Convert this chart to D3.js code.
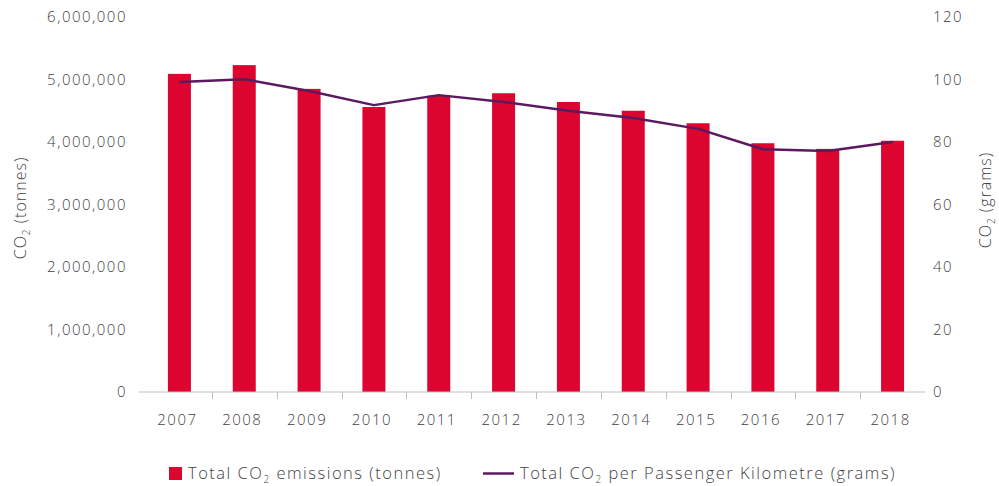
<!DOCTYPE html>
<html>
<head>
<meta charset="utf-8">
<script src="https://cdn.jsdelivr.net/npm/d3@7"></script>
<style>
  body { margin: 0; background: #fff; }
  svg text { font-family: "Open Sans", Lato, sans-serif; font-weight: 350; fill: #3F3F3F; letter-spacing: 1.5px; }
</style>
</head>
<body>
<div id="chart"></div>
<script>
const years = ['2007', '2008', '2009', '2010', '2011', '2012', '2013', '2014', '2015', '2016', '2017', '2018'];
const totalTonnes = [5090000, 5230000, 4850000, 4560000, 4740000, 4780000, 4640000, 4500000, 4300000, 3980000, 3890000, 4020000];
const gramsPerPkm = [99.2, 100.1, 96.3, 91.8, 95, 92.8, 90, 87.7, 84.2, 77.7, 77.1, 80];
const leftTicks = [0, 1000000, 2000000, 3000000, 4000000, 5000000, 6000000];
const rightTicks = [0, 20, 40, 60, 80, 100, 120];

const COLORS = { bar: '#DC0530', line: '#5B1A5F', axis: '#BFBFBF', text: '#3F3F3F' };
const width = 999, height = 486;

const svg = d3.select('#chart').append('svg')
  .attr('width', width)
  .attr('height', height);

const x = d3.scaleBand().domain(years).range([147, 925]);
const yLeft = d3.scaleLinear().domain([0, 6000000]).range([392, 17]);
const yRight = d3.scaleLinear().domain([0, 120]).range([392, 17]);
const barW = 23;

// bars
svg.append('g').selectAll('rect')
  .data(years)
  .join('rect')
  .attr('x', (d) => x(d) + x.bandwidth() / 2 - barW / 2)
  .attr('y', (d, i) => yLeft(totalTonnes[i]))
  .attr('width', barW)
  .attr('height', (d, i) => yLeft(0) - yLeft(totalTonnes[i]))
  .attr('fill', COLORS.bar);

// line
const line = d3.line()
  .x((d, i) => x(years[i]) + x.bandwidth() / 2)
  .y((d) => yRight(d));
svg.append('path')
  .datum(gramsPerPkm)
  .attr('d', line)
  .attr('fill', 'none')
  .attr('stroke', COLORS.line)
  .attr('stroke-width', 2.5)
  .attr('stroke-linejoin', 'round');

// x axis
const xAxis = svg.append('g');
xAxis.append('line')
  .attr('x1', 139).attr('x2', x.range()[1])
  .attr('y1', yLeft(0)).attr('y2', yLeft(0))
  .attr('stroke', COLORS.axis).attr('stroke-width', 1);
xAxis.selectAll('line.tick')
  .data(years.slice(1))
  .join('line')
  .attr('class', 'tick')
  .attr('x1', (d) => Math.round(x(d)) + 0.5)
  .attr('x2', (d) => Math.round(x(d)) + 0.5)
  .attr('y1', yLeft(0)).attr('y2', yLeft(0) + 7)
  .attr('stroke', COLORS.axis);
xAxis.selectAll('text')
  .data(years)
  .join('text')
  .attr('x', (d) => x(d) + x.bandwidth() / 2 - 2)
  .attr('y', 425)
  .attr('text-anchor', 'middle')
  .attr('font-size', 15)
  .text((d) => d);

// left axis labels
const fmt = d3.format(',');
svg.append('g').selectAll('text')
  .data(leftTicks)
  .join('text')
  .attr('x', 127)
  .attr('y', (d) => yLeft(d) + 5)
  .attr('text-anchor', 'end')
  .attr('font-size', 15)
  .text((d) => fmt(d));

// right axis labels
svg.append('g').selectAll('text')
  .data(rightTicks)
  .join('text')
  .attr('x', 933)
  .attr('y', (d) => yRight(d) + 5)
  .attr('text-anchor', 'start')
  .attr('font-size', 15)
  .text((d) => d);

function co2Label(g, rest) {
  const t = g.append('text').attr('font-size', 16).style('letter-spacing', '1px');
  t.append('tspan').text('CO');
  t.append('tspan').attr('font-size', 10).attr('dy', 4).text('2');
  t.append('tspan').attr('dy', -4).text(rest);
  return t;
}

co2Label(svg, ' (tonnes)')
  .attr('transform', 'translate(26,208) rotate(-90)')
  .attr('text-anchor', 'middle');
co2Label(svg, ' (grams)')
  .attr('transform', 'translate(991,200) rotate(-90)')
  .attr('text-anchor', 'middle');

// legend
const legend = svg.append('g');
legend.append('rect')
  .attr('x', 169).attr('y', 467).attr('width', 13).attr('height', 13)
  .attr('fill', COLORS.bar);
const l1 = legend.append('text').attr('x', 188).attr('y', 479).attr('font-size', 16.5);
l1.append('tspan').text('Total CO');
l1.append('tspan').attr('font-size', 10).attr('dy', 4).text('2');
l1.append('tspan').attr('dy', -4).text(' emissions (tonnes)');

legend.append('line')
  .attr('x1', 483).attr('x2', 514).attr('y1', 473.5).attr('y2', 473.5)
  .attr('stroke', COLORS.line).attr('stroke-width', 2.5);
const l2 = legend.append('text').attr('x', 520).attr('y', 479).attr('font-size', 16.5);
l2.append('tspan').text('Total CO');
l2.append('tspan').attr('font-size', 10).attr('dy', 4).text('2');
l2.append('tspan').attr('dy', -4).text(' per Passenger Kilometre (grams)');
</script>
</body>
</html>
